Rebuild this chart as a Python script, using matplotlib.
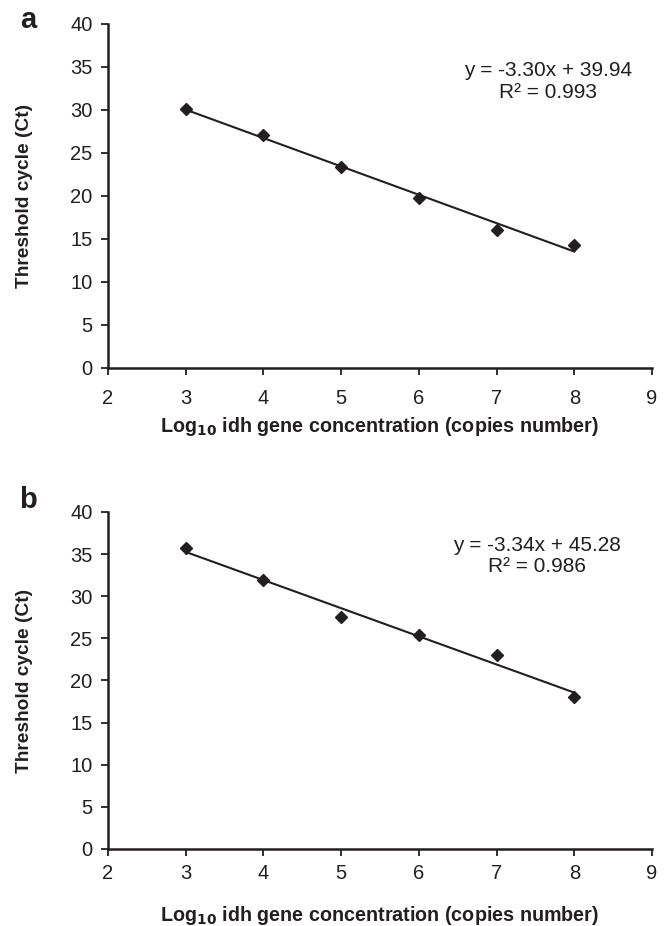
import matplotlib.pyplot as plt
import numpy as np

# values
log_conc = [3, 4, 5, 6, 7, 8]
ct_a = [30.1, 27.1, 23.4, 19.8, 16.1, 14.3]
ct_b = [35.7, 31.9, 27.5, 25.4, 23.0, 18.0]
fit_a = (-3.30, 39.94, 0.993)
fit_b = (-3.34, 45.28, 0.986)
panel_labels = ["a", "b"]

plt.rcParams['font.family'] = ['Liberation Sans', 'DejaVu Sans']
ink = "#231f20"

fig = plt.figure(figsize=(6.65, 9.26), dpi=100)

rects = [[0.1624, 0.6026, 0.818, 0.3715],
         [0.1624, 0.0832, 0.818, 0.3639]]
eq_pos = [(7.66, 33.3), (7.52, 34.8)]
tick_pad = [10, 5.5]
xlabel_y = [-0.1715, -0.196]
letter_y = [1.012, 1.036]


def draw_panel(ax, y, fit, label, i):
    slope, icpt, r2 = fit
    xs = np.array([log_conc[0], log_conc[-1]])
    ax.plot(xs, slope * xs + icpt, color=ink, lw=1.5, zorder=2)
    ax.plot(log_conc, y, ls="none", marker="D", ms=6.5, color=ink, zorder=3)

    ax.set_xlim(2, 9)
    ax.set_ylim(0, 40)
    ax.set_xticks(range(2, 10))
    ax.set_yticks(range(0, 41, 5))
    for s in ["top", "right"]:
        ax.spines[s].set_visible(False)
    for s in ["left", "bottom"]:
        ax.spines[s].set_linewidth(1.8)
        ax.spines[s].set_color(ink)
    ax.tick_params(direction="out", length=5, width=1.3, labelsize=14.5,
                   color=ink, labelcolor=ink)
    ax.tick_params(axis="x", pad=tick_pad[i])
    ax.tick_params(axis="y", pad=6)

    ax.set_ylabel("Threshold cycle (Ct)", fontsize=13.8, fontweight="bold",
                  color=ink, va="center")
    ax.yaxis.set_label_coords(-0.154, 0.5)
    ax.set_xlabel(r"Log$_{\mathbf{10}}$ idh gene concentration (copies number)",
                  fontsize=14.2, fontweight="bold", color=ink, va="center")
    ax.xaxis.set_label_coords(0.5, xlabel_y[i])

    ex, ey = eq_pos[i]
    ax.text(ex, ey, f"y = {slope:.2f}x + {icpt:.2f}\nR\u00b2 = {r2:.3f}",
            ha="center", va="center", fontsize=15, linespacing=1.15,
            color=ink)
    ax.text(-0.147, letter_y[i], label, transform=ax.transAxes, fontsize=21,
            fontweight="bold", ha="center", va="center", color=ink)


for i, (rect, y, fit, lab) in enumerate(zip(rects, [ct_a, ct_b],
                                            [fit_a, fit_b], panel_labels)):
    ax = fig.add_axes(rect)
    draw_panel(ax, y, fit, lab, i)

fig.savefig("out.png", dpi=100)
